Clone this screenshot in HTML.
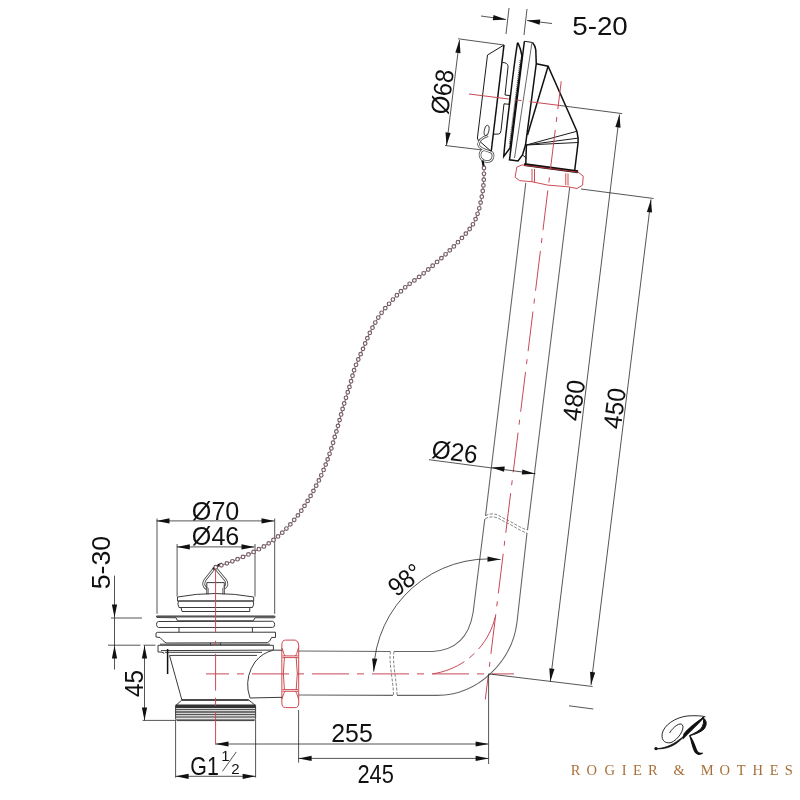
<!DOCTYPE html>
<html><head><meta charset="utf-8"><style>
html,body{margin:0;padding:0;background:#fff;}
svg{display:block;will-change:transform;}
.k{fill:none;stroke:#1a1a1a;stroke-width:1;}
.kb{fill:none;stroke:#111;stroke-width:1.5;}
.g{fill:none;stroke:#555;stroke-width:0.9;}
.p{fill:none;stroke:#666;stroke-width:1.1;}
.pl{fill:none;stroke:#3a3a3a;stroke-width:1;}
.fl{fill:none;stroke:#555;stroke-width:1.6;}
.h{fill:none;stroke:#444;stroke-width:1.2;stroke-dasharray:1 1;}
.brk{fill:none;stroke:#666;stroke-width:0.8;stroke-dasharray:3 1.5;}
.d{fill:none;stroke:#2a2a2a;stroke-width:0.8;}
.r{fill:none;stroke:#c84858;stroke-width:1;stroke-dasharray:40 8 5 8;}
.r2{fill:none;stroke:#c84858;stroke-width:1;stroke-dasharray:36 6 7 6;}
.rh{fill:none;stroke:#c84858;stroke-width:1;stroke-dasharray:36 7 9 7;}
.n{fill:none;stroke:#c83840;stroke-width:0.9;}
.thr{fill:none;stroke:#111;stroke-width:3;}
</style></head><body>
<svg width="800" height="800" viewBox="0 0 800 800">
<line class="d" x1="509" y1="8" x2="506" y2="34"/>
<line class="d" x1="527" y1="9" x2="524" y2="35"/>
<line class="d" x1="481" y1="16" x2="506" y2="19.5"/>
<polygon fill="#111" points="506.00,19.50 492.77,20.27 493.49,15.12"/>
<line class="d" x1="552" y1="23.5" x2="527" y2="20.5"/>
<polygon fill="#111" points="527.00,20.50 540.22,19.47 539.60,24.63"/>
<text x="600" y="35.3" font-size="26" text-anchor="middle" font-family="Liberation Sans" fill="#111" textLength="55.5" lengthAdjust="spacingAndGlyphs">5-20</text>
<line class="d" x1="458" y1="38.75" x2="504" y2="45"/>
<line class="d" x1="445" y1="145.5" x2="491.25" y2="151"/>
<line class="d" x1="459.5" y1="40" x2="446.5" y2="145.5"/>
<polygon fill="#111" points="459.50,40.00 460.49,53.22 455.33,52.58"/>
<polygon fill="#111" points="446.50,145.50 445.51,132.28 450.67,132.92"/>
<text x="451" y="93" font-size="25.5" text-anchor="middle" font-family="Liberation Sans" fill="#111" transform="rotate(-82.6 451 93)" textLength="45" lengthAdjust="spacingAndGlyphs">Ø68</text>
<polyline class="k" points="504,45 487.5,55 477.4,138 478.5,141"/>
<line class="kb" x1="504" y1="45" x2="491.25" y2="151"/>
<path class="k" d="M502.5,62.5 Q507.5,62.5 508.1,66.3 L505,95 L510,95.6 L509,104.3 L504,103.8 L501,130.5 Q500.5,134 498.75,134 L493.5,134.25"/>
<path class="kb" d="M518.2,43.3 Q520.5,48 521.9,55.6 L510,148 L503.75,156.5 Q505,140 510,100 Q514,65 517.4,43.3 Q517.8,42.6 518.2,43.3 Z"/>
<line class="h" x1="520.3" y1="60" x2="509.5" y2="144"/>
<path class="kb" d="M532.5,42.5 Q535.5,46 535.8,50 L536.25,63.75 L525.5,145 L522.5,155 L518,161 L509.5,159.8 L524.4,41.25"/>
<line class="k" x1="524.4" y1="41.25" x2="532.5" y2="42.5"/>
<line class="g" x1="531.9" y1="43.1" x2="514.5" y2="158"/>
<polyline class="kb" points="536.25,63.75 548.1,66.25 576.9,131.25 578.1,138.1 578.1,142.5 574.75,170"/>
<line class="kb" x1="548.1" y1="66.25" x2="527.5" y2="135"/>
<polyline class="k" points="526.25,145 576.9,131.25"/>
<polyline class="k" points="526.25,145 578.1,138.1"/>
<polyline class="k" points="526.25,145 578.1,142.5"/>
<line class="kb" x1="526.4" y1="144.6" x2="525.8" y2="164.3"/>
<polyline class="k" points="522.5,155 526.3,158"/>
<line class="thr" x1="524.1" y1="164.6" x2="578.1" y2="171.8"/>
<polygon class="n" points="521.9,164.9 516.8,167.1 515.1,177.25 519.6,180.6 532,181.75 547.75,185.1 568,186.8 577,188.5 582.6,185.1 583.2,176.1 578.1,172.2"/>
<line class="n" x1="532" y1="168.8" x2="532" y2="181.75"/>
<line class="n" x1="534.5" y1="169" x2="534.5" y2="182"/>
<line class="n" x1="565.75" y1="173.3" x2="565.75" y2="185.1"/>
<line class="n" x1="568" y1="173.6" x2="568" y2="185.5"/>
<path d="M488,135.5 C484,137 478.5,140 478.5,144.5 C478.5,148 484,150 491,152 C494.5,154 493.5,161 487.5,161.5 C483,162 479.5,158 480,154 C480.5,151 482.5,150 484,149.5" fill="none" stroke="#444" stroke-width="2.6"/>
<path d="M488,135.5 C484,137 478.5,140 478.5,144.5 C478.5,148 484,150 491,152 C494.5,154 493.5,161 487.5,161.5 C483,162 479.5,158 480,154 C480.5,151 482.5,150 484,149.5" fill="none" stroke="#fff" stroke-width="1.1"/>
<line class="k" x1="480.5" y1="142" x2="491" y2="151.2"/>
<ellipse cx="486.6" cy="130.5" rx="2.3" ry="5.3" transform="rotate(10 486.6 130.5)" fill="none" stroke="#333" stroke-width="0.9"/>
<path d="M482.5,160.5 L484,168" fill="none" stroke="#111" stroke-width="2.2"/>
<line class="r" x1="469" y1="94" x2="560" y2="105.5"/>
<line class="d" x1="560" y1="105.5" x2="622.1" y2="113.6"/>
<line x1="561.25" y1="81.25" x2="485.3" y2="699.5" stroke="#c84858" stroke-width="1" stroke-dasharray="40 8 5 8" stroke-dashoffset="12"/>
<path class="p" d="M525.8,182.9 L485.5,516 M484.8,519 L473.1,612.5 C470,632 460,650 432.5,651.5 L394,651.5 M390,651.5 L299,651"/>
<path class="p" d="M569.7,187.4 L527.5,530 M527,533 L517,622.25 C512,662 478,695 437.4,695.4 L397,695.4 M393,695.4 L299,695"/>
<path class="brk" d="M485.5,515.5 C496,511 500,517 507,520 C514,523 520,528 527.5,530"/>
<path class="brk" d="M485.2,518.5 C496,514 500,520 507,523 C514,526 520,531 527.2,533"/>
<path class="brk" d="M394,651.5 C392,662 397,682 397,695.4"/>
<path class="brk" d="M390.5,651.5 C388.5,662 393.5,682 393.5,695.4"/>
<path class="r2" d="M495,617.4 C490,640 470,668 432.5,673.9"/>
<line x1="206" y1="673.9" x2="514" y2="673.9" stroke="#c84858" stroke-width="1" stroke-dasharray="37 8 7 8" stroke-dashoffset="14"/>
<line class="d" x1="581" y1="189" x2="653.6" y2="198.5"/>
<line class="d" x1="619.5" y1="114.5" x2="550.3" y2="681.5"/>
<polygon fill="#111" points="619.50,114.50 620.51,127.72 615.34,127.09"/>
<polygon fill="#111" points="550.30,681.50 549.29,668.28 554.46,668.91"/>
<line class="d" x1="651" y1="199.4" x2="591" y2="685"/>
<polygon fill="#111" points="651.00,199.40 651.99,212.62 646.83,211.98"/>
<polygon fill="#111" points="591.00,685.00 590.01,671.78 595.17,672.42"/>
<line class="d" x1="488.6" y1="673.9" x2="592.6" y2="686.5"/>
<line class="d" x1="569" y1="705.8" x2="593.3" y2="709"/>
<text x="582.6" y="401.5" font-size="25.5" text-anchor="middle" font-family="Liberation Sans" fill="#111" transform="rotate(-82.8 582.6 401.5)" textLength="41" lengthAdjust="spacingAndGlyphs">480</text>
<text x="623.3" y="409.5" font-size="25.5" text-anchor="middle" font-family="Liberation Sans" fill="#111" transform="rotate(-82.8 623.3 409.5)" textLength="41" lengthAdjust="spacingAndGlyphs">450</text>
<line class="d" x1="429" y1="459.7" x2="535.6" y2="473.75"/>
<polygon fill="#111" points="491.50,467.50 504.73,466.57 504.06,471.73"/>
<polygon fill="#111" points="535.00,473.70 521.77,474.54 522.46,469.38"/>
<text x="453.6" y="460.6" font-size="25.5" text-anchor="middle" font-family="Liberation Sans" fill="#111" transform="rotate(7.5 453.6 460.6)" textLength="46" lengthAdjust="spacingAndGlyphs">Ø26</text>
<path class="d" d="M500.5,559.5 A115,115 0 0,0 373.7,671.6"/>
<polygon fill="#111" points="500.50,559.50 487.42,561.68 487.59,556.48"/>
<polygon fill="#111" points="373.70,671.60 372.12,658.44 377.31,658.84"/>
<text x="410.5" y="587" font-size="26" text-anchor="middle" font-family="Liberation Sans" fill="#111" transform="rotate(-37 410.5 587)" textLength="35" lengthAdjust="spacingAndGlyphs">98°</text>
<path class="n" d="M285.5,640.1 L295.2,640.1 Q298.7,641 298.7,645 L298.7,703 Q298.7,707.6 295.2,707.6 L285.5,707.6 Q281.85,707.6 281.85,703 L281.85,645 Q281.85,640.1 285.5,640.1 Z"/>
<line class="n" x1="282.5" y1="655.9" x2="298" y2="655.9"/>
<line class="n" x1="282.5" y1="657.6" x2="298" y2="657.6"/>
<line class="n" x1="282.5" y1="689.6" x2="298" y2="689.6"/>
<line class="n" x1="282.5" y1="691.3" x2="298" y2="691.3"/>
<path class="n" d="M284.4,657.6 Q282.3,673.5 284.4,689.6 M296.2,657.6 Q298.4,673.5 296.2,689.6"/>
<path class="n" d="M282,648 Q284,655 285,656 M298.5,648 Q296.5,655 295.5,656 M282,699 Q284,692 285,691.3 M298.5,699 Q296.5,692 295.5,691.3"/>
<line class="d" x1="215.5" y1="744" x2="488.6" y2="744"/>
<polygon fill="#111" points="488.60,744.00 475.60,746.60 475.60,741.40"/>
<polygon fill="#111" points="215.50,744.00 228.50,741.40 228.50,746.60"/>
<line class="d" x1="298.6" y1="758.4" x2="488.6" y2="758.4"/>
<polygon fill="#111" points="298.60,758.40 311.60,755.80 311.60,761.00"/>
<polygon fill="#111" points="488.60,758.40 475.60,761.00 475.60,755.80"/>
<line class="d" x1="488.6" y1="673.9" x2="488.6" y2="764"/>
<line class="d" x1="298.6" y1="710" x2="298.6" y2="762.6"/>
<text x="352" y="742.2" font-size="26" text-anchor="middle" font-family="Liberation Sans" fill="#111" textLength="41.5" lengthAdjust="spacingAndGlyphs">255</text>
<text x="375.7" y="782.6" font-size="26" text-anchor="middle" font-family="Liberation Sans" fill="#111" textLength="36.5" lengthAdjust="spacingAndGlyphs">245</text>
<line class="d" x1="156.5" y1="520.9" x2="274.5" y2="520.9"/>
<polygon fill="#111" points="156.50,520.90 169.50,518.30 169.50,523.50"/>
<polygon fill="#111" points="274.50,520.90 261.50,523.50 261.50,518.30"/>
<line class="d" x1="157" y1="518.5" x2="157" y2="613.8"/>
<line class="d" x1="274.7" y1="518.5" x2="274.7" y2="613.8"/>
<line class="d" x1="176.8" y1="546.9" x2="254.5" y2="546.9"/>
<polygon fill="#111" points="176.80,546.90 189.80,544.30 189.80,549.50"/>
<polygon fill="#111" points="254.50,546.90 241.50,549.50 241.50,544.30"/>
<line class="d" x1="177.1" y1="544" x2="177.1" y2="596.5"/>
<line class="d" x1="255" y1="544" x2="255" y2="596.5"/>
<text x="215.6" y="519.8" font-size="26" text-anchor="middle" font-family="Liberation Sans" fill="#111" textLength="47.5" lengthAdjust="spacingAndGlyphs">Ø70</text>
<text x="215.6" y="545" font-size="26" text-anchor="middle" font-family="Liberation Sans" fill="#111" textLength="47.5" lengthAdjust="spacingAndGlyphs">Ø46</text>
<path d="M206.8,588.75 C203,586 203,583 205,580 L215,567.5 L225.5,580 C227.5,583 227,586 224.25,588.2" fill="none" stroke="#444" stroke-width="2.8"/>
<path d="M206.8,588.75 C203,586 203,583 205,580 L215,567.5 L225.5,580 C227.5,583 227,586 224.25,588.2" fill="none" stroke="#fff" stroke-width="1.2"/>
<polyline class="pl" points="206.8,594.4 206.8,582.6 224.25,582.6 224.25,594.4"/>
<line class="g" x1="208.2" y1="588" x2="208.2" y2="594.4"/>
<line class="g" x1="222.8" y1="588" x2="222.8" y2="594.4"/>
<path d="M213,569 L219,565 L222,563.5" fill="none" stroke="#111" stroke-width="2.4"/>
<path class="pl" d="M177.5,597 Q215,590 253.7,597 L253.7,601 L177.5,601 Z"/>
<path class="pl" d="M178.5,601 L253.2,601 Q254.5,604 252.5,607.5 L179,607.5 Q177,604 178.5,601"/>
<path class="pl" d="M181,607.5 L249.75,607.5 L249.75,611.5 L182,611.5 Z"/>
<path class="pl" d="M156.5,616 L274.7,616 Q275.5,617 274.7,617.75 L255,617.75 L253.25,620.8 L177.5,620.8 L176,617.75 L157,617.5 Z"/>
<polyline class="fl" points="156.5,616.8 274.7,616.8"/>
<path class="pl" d="M158.5,621.5 L272.5,621.25 Q274.7,622 274.7,624.3 Q274.7,627.4 272.5,627.4 L158.5,627.5 Q156.5,627 156.5,624.5 Q156.5,621.5 158.5,621.5 Z"/>
<line class="pl" x1="179" y1="627.5" x2="179" y2="632.2"/>
<line class="pl" x1="252.4" y1="627.4" x2="252.4" y2="632.2"/>
<path class="pl" d="M157.5,632.3 L275.5,632.2 L275.5,637.4 L271.6,637.4 Q270,642 267.25,642.7 L166,643 Q163,641 160,637.5 L156,637 L156,633 Z"/>
<line class="pl" x1="160" y1="644.2" x2="270" y2="644.2"/>
<path class="pl" d="M210.5,642.8 L210.5,645 M220.5,642.8 L220.5,645"/>
<path class="pl" d="M158,645.3 L273.4,645.3 L273.4,650.1 L161,650.6 M158,645.3 L158,652 L161,652 L164,653 M164,653 L164,653.5"/>
<line class="pl" x1="165" y1="652.3" x2="262" y2="652.3"/>
<line class="pl" x1="169.5" y1="655.4" x2="257" y2="655.4"/>
<line class="kb" x1="167.6" y1="649" x2="167.6" y2="674"/>
<line class="pl" x1="169.5" y1="655.4" x2="181.9" y2="700"/>
<path class="pl" d="M273.4,650.1 L282,650.25 M273.4,650.1 Q262,653 255,662 Q246,675 248,690 L250,698 L282,697.3"/>
<line class="kb" x1="181.9" y1="700" x2="248.75" y2="700"/>
<path class="pl" d="M181.9,700 L175.6,705.6 L175.6,719 L177,720.6 L254.2,720.6 L255.6,719 L255.6,705.6 L248.75,700"/>
<rect x="175.6" y="704.5" width="80" height="3.5" fill="#333"/>
<line x1="175.6" y1="709.5" x2="255.6" y2="709.5" stroke="#555" stroke-width="1.3"/>
<line x1="175.6" y1="712" x2="255.6" y2="712" stroke="#444" stroke-width="1.3"/>
<line x1="175.6" y1="714.5" x2="255.6" y2="714.5" stroke="#555" stroke-width="1.3"/>
<line x1="175.6" y1="717" x2="255.6" y2="717" stroke="#666" stroke-width="1.3"/>
<line x1="175.6" y1="719.3" x2="255.6" y2="719.3" stroke="#888" stroke-width="1.3"/>
<line x1="215.6" y1="566" x2="215.6" y2="632.4" stroke="#c84858" stroke-width="1"/>
<line x1="215.6" y1="640.8" x2="215.6" y2="645.5" stroke="#c84858" stroke-width="1"/>
<line x1="215.6" y1="653.8" x2="215.6" y2="690.6" stroke="#c84858" stroke-width="1"/>
<line x1="215.6" y1="697.8" x2="215.6" y2="706" stroke="#c84858" stroke-width="1"/>
<line x1="215.6" y1="712" x2="215.6" y2="744.6" stroke="#c84858" stroke-width="1"/>
<line class="d" x1="114.5" y1="575.6" x2="114.5" y2="669.5"/>
<polygon fill="#111" points="114.50,617.50 111.90,604.50 117.10,604.50"/>
<line class="d" x1="111" y1="618" x2="142" y2="618"/>
<text x="109.6" y="562.5" font-size="26" text-anchor="middle" font-family="Liberation Sans" fill="#111" transform="rotate(-90 109.6 562.5)" textLength="53.5" lengthAdjust="spacingAndGlyphs">5-30</text>
<line class="d" x1="108" y1="645.2" x2="140.5" y2="645.2"/>
<line class="d" x1="143.5" y1="645.2" x2="155.5" y2="645.2"/>
<line class="d" x1="142.6" y1="720.4" x2="175.6" y2="720.4"/>
<line class="d" x1="144.5" y1="645.4" x2="144.5" y2="720.4"/>
<polygon fill="#111" points="144.50,645.40 147.10,658.40 141.90,658.40"/>
<polygon fill="#111" points="144.50,720.40 141.90,707.40 147.10,707.40"/>
<polygon fill="#111" points="114.50,645.40 117.10,658.40 111.90,658.40"/>
<text x="142.5" y="683.5" font-size="25.5" text-anchor="middle" font-family="Liberation Sans" fill="#111" transform="rotate(-90 142.5 683.5)" textLength="27" lengthAdjust="spacingAndGlyphs">45</text>
<line class="d" x1="175.6" y1="720" x2="175.6" y2="777.6"/>
<line class="d" x1="255.6" y1="720" x2="255.6" y2="777.6"/>
<line class="d" x1="175.6" y1="776.3" x2="255.6" y2="776.3"/>
<polygon fill="#111" points="175.60,776.30 188.60,773.70 188.60,778.90"/>
<polygon fill="#111" points="255.60,776.30 242.60,778.90 242.60,773.70"/>
<text x="190.3" y="774.6" font-size="26" text-anchor="start" font-family="Liberation Sans" fill="#111" textLength="28.5" lengthAdjust="spacingAndGlyphs">G1</text>
<text x="225.3" y="760.6" font-size="15" text-anchor="middle" font-family="Liberation Sans" fill="#111">1</text>
<line class="d" x1="222.5" y1="771.25" x2="236.25" y2="751.9"/>
<text x="235.3" y="773.7" font-size="15" text-anchor="middle" font-family="Liberation Sans" fill="#111">2</text>
<path d="M484,168 C483.96,170.00 484.00,175.92 483.75,180 C483.50,184.08 483.33,187.50 482.5,192.5 C481.67,197.50 480.42,204.58 478.75,210 C477.08,215.42 475.62,220.00 472.5,225 C469.38,230.00 464.17,235.42 460,240 C455.83,244.58 451.67,248.54 447.5,252.5 C443.33,256.46 439.58,259.79 435,263.75 C430.42,267.71 425.00,272.29 420,276.25 C415.00,280.21 409.58,283.54 405,287.5 C400.42,291.46 396.67,295.42 392.5,300 C388.33,304.58 383.75,309.58 380,315 C376.25,320.42 372.92,326.67 370,332.5 C367.08,338.33 365.00,344.17 362.5,350 C360.00,355.83 357.08,361.67 355,367.5 C352.92,373.33 351.88,378.75 350,385 C348.12,391.25 345.83,397.92 343.75,405 C341.67,412.08 339.79,419.58 337.5,427.5 C335.21,435.42 332.50,445.00 330,452.5 C327.50,460.00 325.42,465.83 322.5,472.5 C319.58,479.17 316.25,485.83 312.5,492.5 C308.75,499.17 304.58,506.25 300,512.5 C295.42,518.75 290.00,525.00 285,530 C280.00,535.00 275.42,538.75 270,542.5 C264.58,546.25 258.75,549.38 252.5,552.5 C246.25,555.62 238.75,558.75 232.5,561.25 C226.25,563.75 217.92,566.46 215,567.5" fill="none" stroke="#a04860" stroke-width="1"/>
<path d="M484,168 C483.96,170.00 484.00,175.92 483.75,180 C483.50,184.08 483.33,187.50 482.5,192.5 C481.67,197.50 480.42,204.58 478.75,210 C477.08,215.42 475.62,220.00 472.5,225 C469.38,230.00 464.17,235.42 460,240 C455.83,244.58 451.67,248.54 447.5,252.5 C443.33,256.46 439.58,259.79 435,263.75 C430.42,267.71 425.00,272.29 420,276.25 C415.00,280.21 409.58,283.54 405,287.5 C400.42,291.46 396.67,295.42 392.5,300 C388.33,304.58 383.75,309.58 380,315 C376.25,320.42 372.92,326.67 370,332.5 C367.08,338.33 365.00,344.17 362.5,350 C360.00,355.83 357.08,361.67 355,367.5 C352.92,373.33 351.88,378.75 350,385 C348.12,391.25 345.83,397.92 343.75,405 C341.67,412.08 339.79,419.58 337.5,427.5 C335.21,435.42 332.50,445.00 330,452.5 C327.50,460.00 325.42,465.83 322.5,472.5 C319.58,479.17 316.25,485.83 312.5,492.5 C308.75,499.17 304.58,506.25 300,512.5 C295.42,518.75 290.00,525.00 285,530 C280.00,535.00 275.42,538.75 270,542.5 C264.58,546.25 258.75,549.38 252.5,552.5 C246.25,555.62 238.75,558.75 232.5,561.25 C226.25,563.75 217.92,566.46 215,567.5" fill="none" stroke="#74606a" stroke-width="4.8" stroke-dasharray="0 5.8" stroke-linecap="round"/>
<path d="M484,168 C483.96,170.00 484.00,175.92 483.75,180 C483.50,184.08 483.33,187.50 482.5,192.5 C481.67,197.50 480.42,204.58 478.75,210 C477.08,215.42 475.62,220.00 472.5,225 C469.38,230.00 464.17,235.42 460,240 C455.83,244.58 451.67,248.54 447.5,252.5 C443.33,256.46 439.58,259.79 435,263.75 C430.42,267.71 425.00,272.29 420,276.25 C415.00,280.21 409.58,283.54 405,287.5 C400.42,291.46 396.67,295.42 392.5,300 C388.33,304.58 383.75,309.58 380,315 C376.25,320.42 372.92,326.67 370,332.5 C367.08,338.33 365.00,344.17 362.5,350 C360.00,355.83 357.08,361.67 355,367.5 C352.92,373.33 351.88,378.75 350,385 C348.12,391.25 345.83,397.92 343.75,405 C341.67,412.08 339.79,419.58 337.5,427.5 C335.21,435.42 332.50,445.00 330,452.5 C327.50,460.00 325.42,465.83 322.5,472.5 C319.58,479.17 316.25,485.83 312.5,492.5 C308.75,499.17 304.58,506.25 300,512.5 C295.42,518.75 290.00,525.00 285,530 C280.00,535.00 275.42,538.75 270,542.5 C264.58,546.25 258.75,549.38 252.5,552.5 C246.25,555.62 238.75,558.75 232.5,561.25 C226.25,563.75 217.92,566.46 215,567.5" fill="none" stroke="#fff" stroke-width="2.4" stroke-dasharray="0 5.8" stroke-linecap="round"/>
<path d="M669.5,733 C674,726 680,722 682.5,725 C685,729 678,740 671,742.6 C664,744 660,739 663,731 C667,722 680,716 690,715.8 C697,715.5 703,716 705.4,716.8" fill="none" stroke="#111" stroke-width="0.9"/>
<path d="M704.5,716.8 C698,721 690,729 683,737.5 C676,745 668,749.5 656,748.8 C668,748 675,743 681.5,738 C689,731 697,722 704.5,716.8 Z" fill="#111" stroke="#111" stroke-width="0.8"/>
<path d="M684,734 C688,729 694,724 703.5,717.5 C698,724 690,731 683.5,738 Z" fill="#111" stroke="#111" stroke-width="1.2"/>
<circle cx="656" cy="748.6" r="1.7" fill="#111"/>
<path d="M702.5,717.5 C706,719 708,724 704,729 C701,732 695,734.5 689.6,735.6 C695,733 699,731 701.5,728 C704,724 704,720 702.5,717.5 Z" fill="#111" stroke="#111" stroke-width="1"/>
<path d="M689.6,735.6 C691.5,740 692,747 695,752 C697,755 700,755 702.75,753.1 C699,754 697.5,753 696.5,750 C695,746 693,740 689.6,735.6 Z" fill="#111" stroke="#111" stroke-width="1.1"/>
<text x="570.7" y="774.5" font-size="14.5" text-anchor="start" font-family="Liberation Serif" fill="#a87038">R</text>
<text x="586.45" y="774.5" font-size="14.5" text-anchor="start" font-family="Liberation Serif" fill="#a87038">O</text>
<text x="604.45" y="774.5" font-size="14.5" text-anchor="start" font-family="Liberation Serif" fill="#a87038">G</text>
<text x="621.7" y="774.5" font-size="14.5" text-anchor="start" font-family="Liberation Serif" fill="#a87038">I</text>
<text x="632.95" y="774.5" font-size="14.5" text-anchor="start" font-family="Liberation Serif" fill="#a87038">E</text>
<text x="647.95" y="774.5" font-size="14.5" text-anchor="start" font-family="Liberation Serif" fill="#a87038">R</text>
<text x="673.45" y="774.5" font-size="14.5" text-anchor="start" font-family="Liberation Serif" fill="#a87038">&amp;</text>
<text x="700.7" y="774.5" font-size="14.5" text-anchor="start" font-family="Liberation Serif" fill="#a87038">M</text>
<text x="719.45" y="774.5" font-size="14.5" text-anchor="start" font-family="Liberation Serif" fill="#a87038">O</text>
<text x="736.7" y="774.5" font-size="14.5" text-anchor="start" font-family="Liberation Serif" fill="#a87038">T</text>
<text x="752.45" y="774.5" font-size="14.5" text-anchor="start" font-family="Liberation Serif" fill="#a87038">H</text>
<text x="769.7" y="774.5" font-size="14.5" text-anchor="start" font-family="Liberation Serif" fill="#a87038">E</text>
<text x="784.7" y="774.5" font-size="14.5" text-anchor="start" font-family="Liberation Serif" fill="#a87038">S</text>
</svg></body></html>
